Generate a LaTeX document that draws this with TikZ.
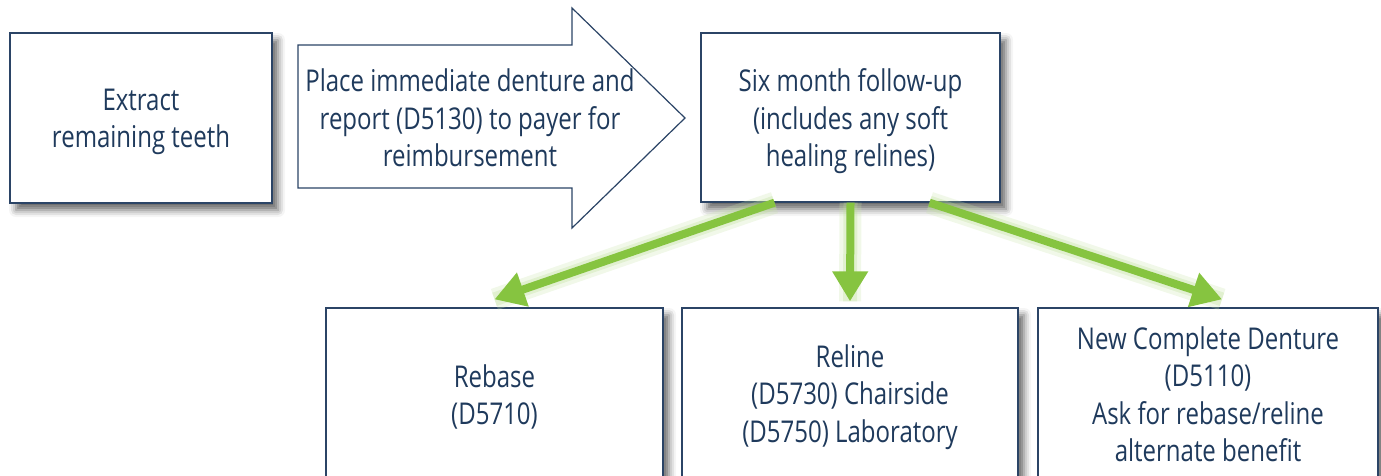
\documentclass[tikz,border=0pt]{standalone}
\usepackage{fontspec}
\setmainfont[FakeStretch=0.8]{Open Sans}
\usetikzlibrary{shadows.blur,arrows.meta}
\definecolor{boxline}{HTML}{2B4466}
\definecolor{textc}{HTML}{1F3A5C}
\definecolor{gr}{HTML}{86C440}
\tikzset{
  box/.style={draw=boxline, line width=1.3pt, fill=white, inner sep=0pt,
    blur shadow={shadow xshift=6pt, shadow yshift=-7pt, shadow blur radius=7pt, shadow opacity=60}},
  txt/.style={text=textc, align=center, font=\fontsize{30}{37.5}\selectfont},
  glow/.style={draw=gr!45, line width=22pt, opacity=0.25},
  glowb/.style={draw=gr!55, line width=14pt, opacity=0.3},
  garrow/.style={draw=gr, line width=8pt, -{Triangle[length=30pt,width=34pt]}, fill=gr},
}
\begin{document}
\begin{tikzpicture}[x=1pt,y=-1pt]
\useasboundingbox (0,0) rectangle (1381,475);
\clip (0,0) rectangle (1381,475);
% boxes
\node[box, minimum width=262pt, minimum height=170pt] (extract) at (141,118) {};
\node[txt] (extract-t) at ([yshift=-4pt]extract.center) {Extract\\remaining teeth};
\node[box, minimum width=299pt, minimum height=169pt] (six) at (850.5,117.5) {};
\node[txt] (six-t) at ([yshift=-4pt]six.center) {Six month follow-up\\(includes any soft\\healing relines)};
\node[box, minimum width=337pt, minimum height=172pt] (rebase) at (494.5,394) {};
\node[txt] (rebase-t) at ([yshift=-3pt]rebase.center) {Rebase\\(D5710)};
\node[box, minimum width=336pt, minimum height=172pt] (reline) at (850,394) {};
\node[txt] (reline-t) at ([yshift=-3pt]reline.center) {Reline\\(D5730) Chairside\\(D5750) Laboratory};
\node[box, minimum width=340pt, minimum height=172pt] (new) at (1208,394) {};
\node[txt] (new-t) at (new.center) {New Complete Denture\\(D5110)\\Ask for rebase/reline\\alternate benefit};
% block arrow
\draw[draw=boxline, line width=1.2pt, fill=white] (298,45) -- (572,45) -- (572,8) -- (685,118) -- (572,228) -- (572,188) -- (298,188) -- cycle;
\node[txt] (place) at (470,118) {Place immediate denture and\\report (D5130) to payer for\\reimbursement};
% green arrows
\coordinate (l0) at ([xshift=-76pt]six.south);
\coordinate (r0) at ([xshift=79pt]six.south);
\coordinate (l1) at ([yshift=8pt]rebase.north);
\coordinate (m1) at ([yshift=6pt]reline.north);
\coordinate (r1) at ([xshift=14pt,yshift=8pt]new.north);
\foreach \s/\e in {l0/l1, six.south/m1, r0/r1} {
  \draw[glow] (\s) -- (\e);
  \draw[glowb] (\s) -- (\e);
}
\draw[garrow] (l0) -- (l1);
\draw[garrow] (six.south) -- (m1);
\draw[garrow] (r0) -- (r1);
\end{tikzpicture}
\end{document}
